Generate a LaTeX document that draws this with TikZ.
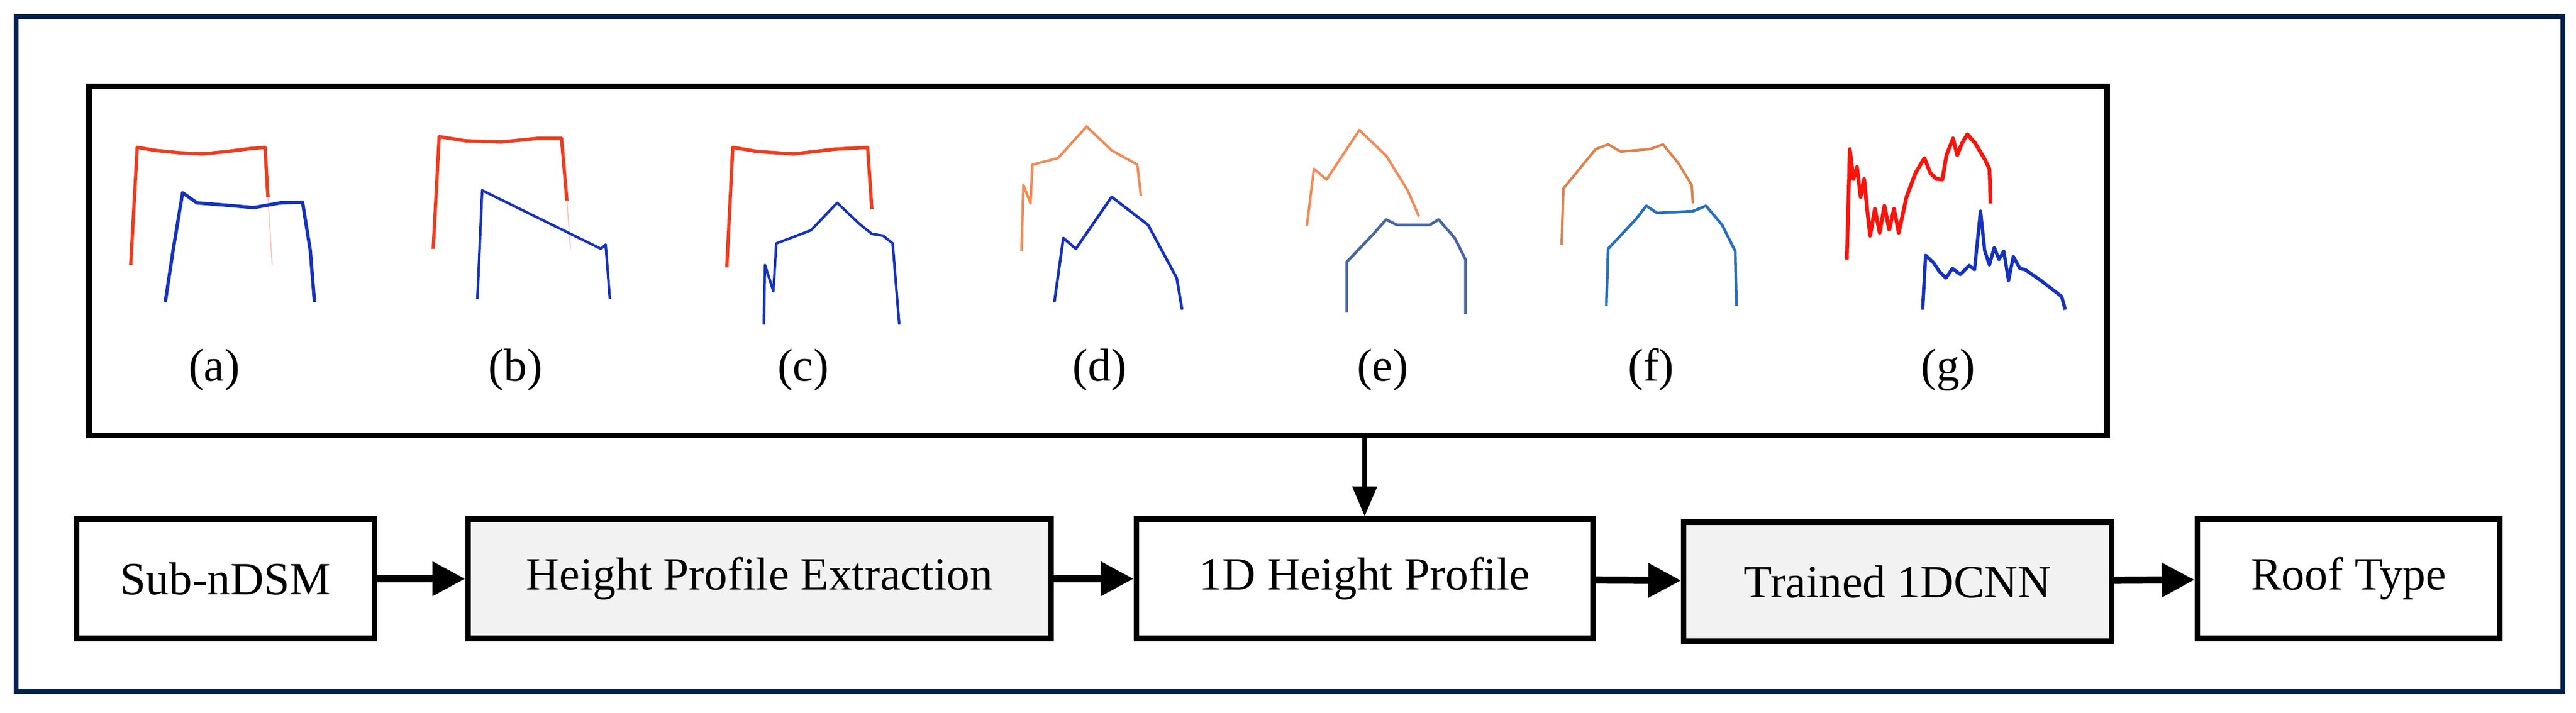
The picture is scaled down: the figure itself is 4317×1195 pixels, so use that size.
\documentclass[tikz,border=0pt]{standalone}
\usepackage{fontspec}
\setmainfont{Liberation Serif}
\usetikzlibrary{arrows.meta}
\begin{document}
\begin{tikzpicture}[x=0.01cm,y=-0.01cm,
  box/.style={draw=black,line width=2.6pt,minimum height=2.0cm,inner sep=0pt,font=\fontsize{22}{26}\selectfont},
  gbox/.style={box,fill=gray!10},
  flow/.style={line width=3.4pt,-{Triangle[length=0.55cm,width=0.55cm]}},
  lab/.style={font=\fontsize{22}{26}\selectfont},
  red/.style={draw={rgb,255:red,240;green,60;blue,30},line width=1.6pt,line join=round},
  org/.style={draw={rgb,255:red,240;green,140;blue,90},line width=1.2pt,line join=round},
  blu/.style={draw={rgb,255:red,20;green,50;blue,190},line width=1.6pt,line join=round},
  stl/.style={draw={rgb,255:red,70;green,100;blue,160},line width=1.3pt,line join=round}]
\useasboundingbox (0,0) rectangle (4317,1195);
\draw[draw={rgb,255:red,0;green,32;blue,80},line width=2.4pt] (27,28) rectangle (4295,1159);
\node[draw=black,line width=2.6pt,minimum width=33.8cm,minimum height=5.84cm,inner sep=0pt] (panel) at (1840,437) {};
% labels
\foreach \x/\t in {359/a,864/b,1346/c,1843/d,2317/e,2767/f,3265/g}
  \node[lab] (l\t) at (\x,620) {(\t)};
% profiles
\draw[red] (219,444)--(230,247)--(260,252)--(300,256)--(340,258)--(380,254)--(420,249)--(444,247)--(449,330);
\draw[red,opacity=.3,line width=.5pt] (449,330)--(456,444);
\draw[blu] (277,506)--(290,420)--(306,323)--(330,340)--(380,344)--(425,348)--(470,340)--(507,339)--(520,420)--(527,506);
\draw[red] (726,417)--(736,229)--(780,236)--(840,238)--(900,232)--(941,232)--(950,336);
\draw[red,opacity=.3,line width=.5pt] (950,336)--(956,417);
\draw[blu,line width=1.2pt] (800,501)--(808,319)--(1007,417)--(1015,410)--(1022,501);
\draw[red] (1218,448)--(1228,247)--(1270,254)--(1330,258)--(1400,250)--(1454,247)--(1461,350);
\draw[blu,line width=1.2pt] (1280,544)--(1282,444)--(1296,488)--(1301,408)--(1359,386)--(1403,340)--(1440,375)--(1461,392)--(1480,395)--(1496,408)--(1507,544);
\draw[org] (1712,421)--(1715,310)--(1727,341)--(1730,276)--(1773,265)--(1821,212)--(1863,252)--(1906,276)--(1912,328);
\draw[blu,line width=1.3pt] (1767,506)--(1782,399)--(1803,417)--(1863,330)--(1924,377)--(1972,466)--(1981,519);
\draw[org] (2190,379)--(2202,283)--(2223,301)--(2278,218)--(2323,261)--(2359,319)--(2378,363);
\draw[stl] (2257,524)--(2257,439)--(2299,395)--(2323,368)--(2341,377)--(2396,377)--(2411,368)--(2438,399)--(2456,435)--(2456,526);
\draw[org,draw={rgb,255:red,220;green,130;blue,80}] (2617,410)--(2620,316)--(2674,250)--(2695,242)--(2716,254)--(2765,250)--(2787,242)--(2813,274)--(2835,310)--(2837,341);
\draw[stl,draw={rgb,255:red,40;green,110;blue,190}] (2692,513)--(2695,417)--(2741,368)--(2759,345)--(2777,357)--(2837,354)--(2859,345)--(2886,377)--(2908,421)--(2910,513);
\draw[red,line width=1.8pt,draw={rgb,255:red,250;green,20;blue,10}] (3095,435)--(3100,250)--(3106,300)--(3112,280)--(3118,330)--(3124,300)--(3130,360)--(3134,395)--(3142,350)--(3150,390)--(3158,345)--(3166,385)--(3174,350)--(3182,390)--(3195,330)--(3210,290)--(3225,265)--(3235,290)--(3245,300)--(3255,301)--(3262,260)--(3273,232)--(3280,260)--(3288,240)--(3297,225)--(3310,240)--(3325,265)--(3334,283)--(3336,341);
\draw[blu] (3222,519)--(3227,428)--(3240,440)--(3250,455)--(3261,466)--(3272,450)--(3285,460)--(3300,445)--(3309,452)--(3319,354)--(3326,420)--(3334,444)--(3342,415)--(3350,435)--(3358,421)--(3366,470)--(3374,430)--(3385,450)--(3394,452)--(3420,470)--(3455,497)--(3461,519);
% bottom row
\node[box,minimum width=4.99cm] (sub) at (378,970) {Sub-nDSM};
\node[gbox,minimum width=9.77cm] (hpe) at (1273,970) {Height Profile Extraction};
\node[box,minimum width=7.65cm] (hp) at (2287,970) {1D Height Profile};
\node[gbox,minimum width=7.16cm] (cnn) at (3180,975) {Trained 1DCNN};
\node[box,minimum width=5.07cm] (roof) at (3936,970) {Roof Type};
\draw[flow] (sub) -- (hpe);
\draw[flow] (hpe) -- (hp);
\draw[flow] (hp) -- (cnn);
\draw[flow] (cnn) -- (roof);
\draw[line width=2.2pt,-{Triangle[length=0.5cm,width=0.4cm]}] (panel.south -| hp.north) -- (hp.north);
\end{tikzpicture}
\end{document}
